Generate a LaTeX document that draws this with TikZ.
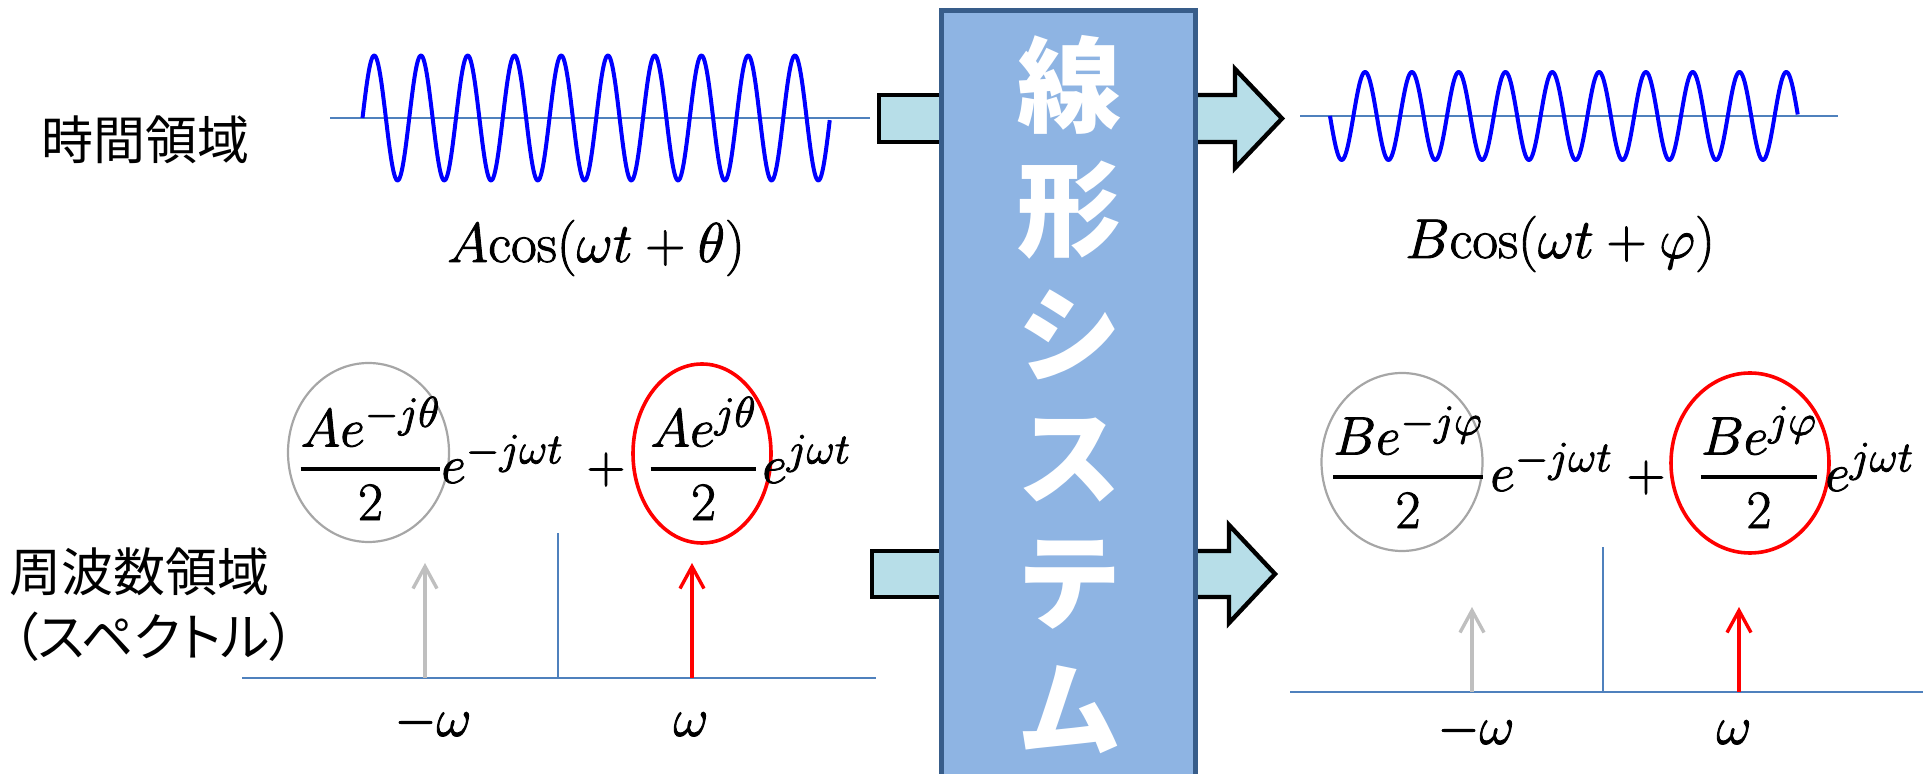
\RequirePackage{fix-cm}
\documentclass[tikz,border=0pt]{standalone}
\usepackage{amsmath}
\usepackage{fontspec}
\newfontfamily\jp{Noto Sans CJK JP}
\newfontfamily\jpp{Noto Sans CJK JP}[RawFeature=+palt]
\usetikzlibrary{arrows.meta,shapes.geometric}
\renewcommand{\defaultscriptratio}{.8}
\renewcommand{\defaultscriptscriptratio}{.64}
\newcommand{\tfr}[2]{\genfrac{}{}{2pt}{0}{#1}{#2}}
\newcommand{\heavy}[1]{\special{pdf:literal direct q 2 Tr 0.45 w 1 j}#1\special{pdf:literal direct Q}}
\definecolor{axisblue}{RGB}{79,129,189}
\definecolor{boxfill}{RGB}{142,180,227}
\definecolor{boxline}{RGB}{56,93,138}
\definecolor{arrowfill}{RGB}{183,222,232}
\definecolor{greyarr}{RGB}{191,191,191}
\definecolor{greyell}{RGB}{166,166,166}
\tikzset{
  axisline/.style={draw=axisblue, line width=1.35pt},
  wave/.style={draw=blue, line width=2pt, line join=round},
  blockarrow/.style={draw=black, fill=arrowfill, line width=2.2pt, line join=miter},
  specarr/.style={line width=1.7pt, -{Straight Barb[length=11pt,width=12pt]}},
  jplabel/.style={font=\jp\fontsize{26}{30}\selectfont, inner sep=0pt},
  mathlbl/.style={font=\fontsize{27}{32}\selectfont, inner sep=0pt},
  toplbl/.style={font=\fontsize{28}{32}\selectfont, inner sep=0pt},
  greyellipse/.style={ellipse, draw=greyell, line width=1.1pt, inner sep=0pt},
  redellipse/.style={ellipse, draw=red, line width=1.8pt, inner sep=0pt},
  sysbox/.style={draw=boxline, fill=boxfill, line width=2.5pt, inner sep=0pt},
  sysch/.style={text=white, font=\jp\bfseries\fontsize{52}{60}\selectfont, inner sep=0pt},
}
\begin{document}
\begin{tikzpicture}[x=0.5pt,y=-0.5pt]
\useasboundingbox (0,0) rectangle (1923,774);
\clip (0,0) rectangle (1923,774);

% left labels
\node[jplabel] (time) at (145,140) {時間領域};
\node[jplabel] (freq) at (140,572) {周波数領域};
\node[jplabel, font=\jpp\fontsize{26}{30}\selectfont] (spec) at (154,637) {（スペクトル）};

% time domain input
\coordinate (axA1) at (330,118);
\coordinate (axA2) at (870,118);
\draw[axisline] (axA1) -- (axA2);
\draw[wave] plot[domain=0:10, samples=501] ({362.5+46.75*\x},{118-62.5*sin(360*\x)});
\node[toplbl] (inA) at (596,248) {\heavy{$A\mathrm{cos}(\omega t+\theta)$}};

% time domain output
\coordinate (axB1) at (1300,116);
\coordinate (axB2) at (1838,116);
\draw[axisline] (axB1) -- (axB2);
\draw[wave] plot[domain=0:10, samples=501] ({1330+46.8*\x},{116+44*sin(360*\x)});
\node[toplbl] (outB) at (1560,244) {\heavy{$B\mathrm{cos}(\omega t+\varphi)$}};

% block arrows
\draw[blockarrow] (879,95) rectangle (1000,142);
\draw[blockarrow] (1150,95) -- (1235,95) -- (1235,69) -- (1282,118.5) -- (1235,168) -- (1235,142) -- (1150,142) -- cycle;
\draw[blockarrow] (872,551) rectangle (1000,597);
\draw[blockarrow] (1150,551) -- (1229,551) -- (1229,525) -- (1275,574) -- (1229,623) -- (1229,597) -- (1150,597) -- cycle;

% system box
\node[sysbox, minimum width=127pt, minimum height=394pt] (sys) at (1068.5,405) {};
\foreach \c [count=\i] in {線,形,シ,ス,テ,ム}
  \node[sysch] (ch\i) at (1069,{85+125*(\i-1)}) {\c};

% frequency domain input
\coordinate (sA1) at (242,678);
\coordinate (sA2) at (876,678);
\draw[axisline] (sA1) -- (sA2);
\coordinate (tA0) at (558,678);
\coordinate (tA1) at (558,533);
\draw[axisline] (tA0) -- (tA1);
\coordinate (gA0) at (425,678);
\coordinate (gA1) at (425,563);
\coordinate (rA0) at (692,678);
\coordinate (rA1) at (692,563);
\draw[specarr, greyarr] (gA0) -- (gA1);
\draw[specarr, red] (rA0) -- (rA1);
\node[greyellipse, minimum width=80.5pt, minimum height=89.5pt] (egA) at (368.5,452.5) {};
\node[redellipse, minimum width=69pt, minimum height=89.5pt] (erA) at (702,453.5) {};
\node[mathlbl, anchor=base] (fgA) at (370.5,483) {\heavy{$\tfr{Ae^{-j\theta}}{2}$}};
\node[mathlbl, anchor=base west] (xgA) at (441,483) {\heavy{$e^{-j\omega t}$}};
\node[mathlbl, anchor=base] (plA) at (606,483) {\heavy{$+$}};
\node[mathlbl, anchor=base] (frA) at (703.5,483) {\heavy{$\tfr{Ae^{j\theta}}{2}$}};
\node[mathlbl, anchor=base west] (xrA) at (762,483) {\heavy{$e^{j\omega t}$}};
\node[mathlbl, anchor=base] (mwA) at (433,736) {\heavy{$-\omega$}};
\node[mathlbl, anchor=base] (pwA) at (691,736) {\heavy{$\omega$}};

% frequency domain output
\coordinate (sB1) at (1290,692);
\coordinate (sB2) at (1923,692);
\draw[axisline] (sB1) -- (sB2);
\coordinate (tB0) at (1603,692);
\coordinate (tB1) at (1603,547);
\draw[axisline] (tB0) -- (tB1);
\coordinate (gB0) at (1472,692);
\coordinate (gB1) at (1472,607);
\coordinate (rB0) at (1739,692);
\coordinate (rB1) at (1739,607);
\draw[specarr, greyarr] (gB0) -- (gB1);
\draw[specarr, red] (rB0) -- (rB1);
\node[greyellipse, minimum width=80.5pt, minimum height=89pt] (egB) at (1402,462) {};
\node[redellipse, minimum width=79pt, minimum height=90pt] (erB) at (1750,463) {};
\node[mathlbl, anchor=base] (fgB) at (1408,491) {\heavy{$\tfr{Be^{-j\varphi}}{2}$}};
\node[mathlbl, anchor=base west] (xgB) at (1490,491) {\heavy{$e^{-j\omega t}$}};
\node[mathlbl, anchor=base] (plB) at (1646,491) {\heavy{$+$}};
\node[mathlbl, anchor=base] (frB) at (1759,491) {\heavy{$\tfr{Be^{j\varphi}}{2}$}};
\node[mathlbl, anchor=base west] (xrB) at (1825,491) {\heavy{$e^{j\omega t}$}};
\node[mathlbl, anchor=base] (mwB) at (1476,744) {\heavy{$-\omega$}};
\node[mathlbl, anchor=base] (pwB) at (1734,744) {\heavy{$\omega$}};
\end{tikzpicture}
\end{document}
